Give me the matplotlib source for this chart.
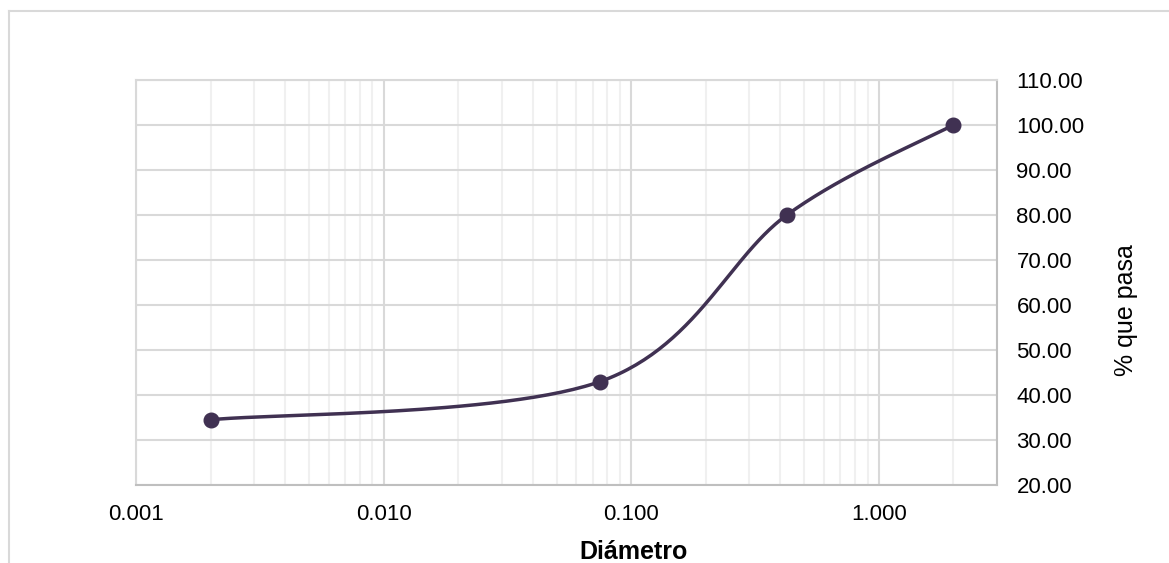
import numpy as np
import matplotlib.pyplot as plt
from matplotlib.lines import Line2D
from matplotlib.ticker import LogLocator, NullFormatter, FormatStrFormatter

plt.rcParams['font.family'] = ['Liberation Sans', 'DejaVu Sans']

# data
diametro = [0.002, 0.075, 0.425, 2.0]
pasa = [34.5, 43.0, 80.0, 100.0]
x_ticks = [0.001, 0.01, 0.1, 1.0]
x_tick_labels = ["0.001", "0.010", "0.100", "1.000"]
y_ticks = [20, 30, 40, 50, 60, 70, 80, 90, 100, 110]

line_col = "#403152"
major_grid = "#D9D9D9"
minor_grid = "#F0F0F0"


# Excel-style smoothed line (Catmull-Rom through the points, log x)
def smooth(xs, ys, n=60):
    u = np.log10(xs)
    v = np.array(ys, dtype=float)
    pts = np.column_stack([u, v])
    pts = np.vstack([pts[0], pts, pts[-1]])
    out = []
    for i in range(1, len(pts) - 2):
        p0, p1, p2, p3 = pts[i - 1], pts[i], pts[i + 1], pts[i + 2]
        c1 = p1 + (p2 - p0) / 6
        c2 = p2 - (p3 - p1) / 6
        t = np.linspace(0, 1, n)[:, None]
        seg = ((1 - t) ** 3 * p1 + 3 * (1 - t) ** 2 * t * c1
               + 3 * (1 - t) * t ** 2 * c2 + t ** 3 * p2)
        out.append(seg)
    out = np.vstack(out)
    return 10 ** out[:, 0], out[:, 1]


fig = plt.figure(figsize=(11.69, 5.63), dpi=100)
ax = fig.add_axes([136 / 1169, 1 - 485 / 563, (997 - 136) / 1169, (485 - 80) / 563])

sx, sy = smooth(diametro, pasa)
ax.plot(sx, sy, color=line_col, linewidth=2.5, zorder=3, solid_capstyle="round")
ax.plot(diametro, pasa, "o", color=line_col, markersize=10.5, zorder=4)

ax.set_xscale("log")
ax.set_xlim(0.001, 3.0)
ax.set_ylim(20, 110)

ax.set_xticks(x_ticks)
ax.set_xticklabels(x_tick_labels)
ax.xaxis.set_minor_locator(LogLocator(base=10, subs=np.arange(2, 10)))
ax.xaxis.set_minor_formatter(NullFormatter())
ax.set_yticks(y_ticks)
ax.yaxis.set_major_formatter(FormatStrFormatter("%.2f"))
ax.yaxis.tick_right()

ax.tick_params(axis="both", which="both", length=0, labelsize=16)
ax.tick_params(axis="x", pad=14)
ax.tick_params(axis="y", pad=14)

ax.grid(True, which="major", axis="both", color=major_grid, linewidth=1.5)
ax.grid(True, which="minor", axis="x", color=minor_grid, linewidth=1.5)
ax.set_axisbelow(True)

for side in ["left", "top"]:
    ax.spines[side].set_color(major_grid)
    ax.spines[side].set_linewidth(1.5)
for side in ["right", "bottom"]:
    ax.spines[side].set_color("#BFBFBF")
    ax.spines[side].set_linewidth(1.5)

fig.text(634 / 1169, 4 / 563, "Diámetro", ha="center", va="baseline",
         fontsize=18, fontweight="bold")
fig.text(1126 / 1169, 1 - 310 / 563, "% que pasa", ha="center", va="center",
         rotation=90, fontsize=18)

# chart area border (cut off at the right and bottom)
fig.add_artist(Line2D([8.5 / 1169, 1], [1 - 10.5 / 563] * 2, color=major_grid,
                      linewidth=1.5, transform=fig.transFigure))
fig.add_artist(Line2D([8.5 / 1169] * 2, [0, 1 - 10.5 / 563], color=major_grid,
                      linewidth=1.5, transform=fig.transFigure))

fig.savefig("out.png", dpi=100)
